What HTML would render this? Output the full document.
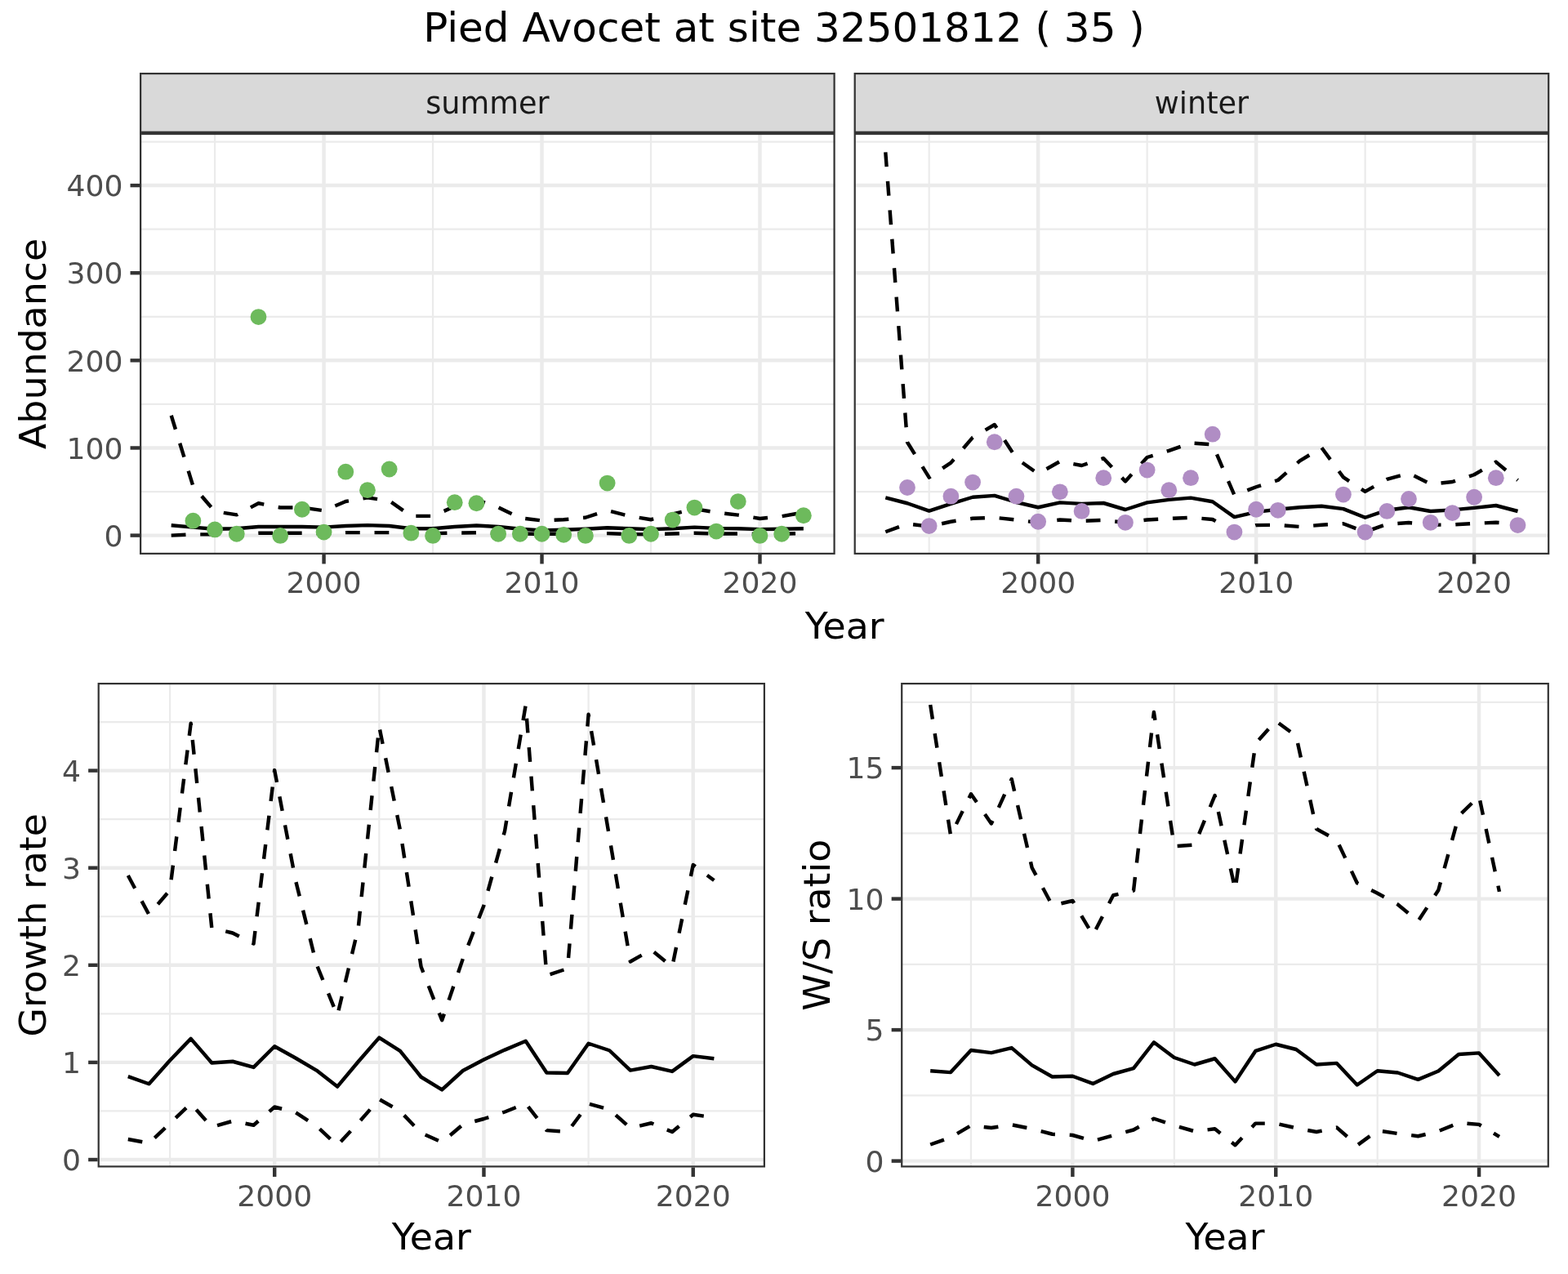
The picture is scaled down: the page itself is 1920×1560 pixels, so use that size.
<!DOCTYPE html>
<html lang="en">
<head>
<meta charset="utf-8">
<title>Pied Avocet at site 32501812 ( 35 )</title>
<style>
html, body { margin: 0; padding: 0; background: #fff; }
body { width: 1920px; height: 1560px; overflow: hidden; }
svg { display: block; font-family: "DejaVu Sans", "Liberation Sans", sans-serif; }
svg text { font-kerning: normal; }
</style>
</head>
<body>
<svg xmlns="http://www.w3.org/2000/svg" width="1920" height="1560" viewBox="0 0 1920 1560">
<rect width="1920" height="1560" fill="#fff"/>
<text transform="translate(960,50.6) scale(1,1)" text-anchor="middle" font-size="50" fill="#000">Pied Avocet at site 32501812 ( 35 )</text>
<clipPath id="ca"><rect x="171" y="162.9" width="851.7" height="516.1"/></clipPath>
<g clip-path="url(#ca)">
<rect x="171" y="162.9" width="851.7" height="516.1" fill="#fff"/>
<line x1="171" x2="1022.7" y1="602.04" y2="602.04" stroke="#EBEBEB" stroke-width="2.22"/>
<line x1="171" x2="1022.7" y1="494.91" y2="494.91" stroke="#EBEBEB" stroke-width="2.22"/>
<line x1="171" x2="1022.7" y1="387.78" y2="387.78" stroke="#EBEBEB" stroke-width="2.22"/>
<line x1="171" x2="1022.7" y1="280.65" y2="280.65" stroke="#EBEBEB" stroke-width="2.22"/>
<line x1="171" x2="1022.7" y1="173.52" y2="173.52" stroke="#EBEBEB" stroke-width="2.22"/>
<line y1="162.9" y2="679" x1="263.09" x2="263.09" stroke="#EBEBEB" stroke-width="2.22"/>
<line y1="162.9" y2="679" x1="530.05" x2="530.05" stroke="#EBEBEB" stroke-width="2.22"/>
<line y1="162.9" y2="679" x1="797.01" x2="797.01" stroke="#EBEBEB" stroke-width="2.22"/>
<line x1="171" x2="1022.7" y1="655.6" y2="655.6" stroke="#EBEBEB" stroke-width="4.44"/>
<line x1="171" x2="1022.7" y1="548.47" y2="548.47" stroke="#EBEBEB" stroke-width="4.44"/>
<line x1="171" x2="1022.7" y1="441.34" y2="441.34" stroke="#EBEBEB" stroke-width="4.44"/>
<line x1="171" x2="1022.7" y1="334.21" y2="334.21" stroke="#EBEBEB" stroke-width="4.44"/>
<line x1="171" x2="1022.7" y1="227.08" y2="227.08" stroke="#EBEBEB" stroke-width="4.44"/>
<line y1="162.9" y2="679" x1="396.57" x2="396.57" stroke="#EBEBEB" stroke-width="4.44"/>
<line y1="162.9" y2="679" x1="663.53" x2="663.53" stroke="#EBEBEB" stroke-width="4.44"/>
<line y1="162.9" y2="679" x1="930.49" x2="930.49" stroke="#EBEBEB" stroke-width="4.44"/>
<polyline points="209.7,643.25 236.4,645.6 263.09,647.75 289.79,647.25 316.48,645 343.18,645 369.88,645 396.57,645.6 423.27,644 449.96,643.1 476.66,644 503.36,647.25 530.05,647.25 556.75,645 583.44,643.5 610.14,645 636.84,647.75 663.53,649.4 690.23,648.75 716.92,647.75 743.62,646.25 770.32,647.25 797.01,648.1 823.71,647.25 850.4,645.6 877.1,646.9 903.8,647.25 930.49,648.1 957.19,647.75 983.88,647.25" fill="none" stroke="#000" stroke-width="4.44" stroke-linejoin="round" stroke-linecap="butt"/>
<polyline points="209.7,508.75 236.4,595.25 263.09,626.25 289.79,630.4 316.48,616.25 343.18,621.5 369.88,621.5 396.57,625.25 423.27,614 449.96,609.4 476.66,613.1 503.36,631.9 530.05,631.9 556.75,620 583.44,611.9 610.14,621.25 636.84,634.2 663.53,637.5 690.23,636.25 716.92,633.75 743.62,625 770.32,631.9 797.01,636.25 823.71,629.5 850.4,623.1 877.1,627.5 903.8,630.6 930.49,635 957.19,632.25 983.88,627.5" fill="none" stroke="#000" stroke-width="4.44" stroke-linejoin="round" stroke-linecap="butt" stroke-dasharray="17.78 17.78"/>
<polyline points="209.7,655.6 236.4,654.4 263.09,654.4 289.79,654 316.48,652.75 343.18,652.75 369.88,652.75 396.57,653 423.27,652.1 449.96,652.1 476.66,652.1 503.36,653 530.05,653.1 556.75,652.5 583.44,652.25 610.14,653 636.84,653.5 663.53,653.75 690.23,653.75 716.92,653.5 743.62,653.1 770.32,654 797.01,654.4 823.71,653.5 850.4,652.75 877.1,653.4 903.8,653.5 930.49,654 957.19,653.75 983.88,653.1" fill="none" stroke="#000" stroke-width="4.44" stroke-linejoin="round" stroke-linecap="butt" stroke-dasharray="17.78 17.78"/>
<circle cx="236.4" cy="637.69" r="9.9" fill="#6DBA5C"/>
<circle cx="263.09" cy="648.4" r="9.9" fill="#6DBA5C"/>
<circle cx="289.79" cy="653.76" r="9.9" fill="#6DBA5C"/>
<circle cx="316.48" cy="388.08" r="9.9" fill="#6DBA5C"/>
<circle cx="343.18" cy="655.9" r="9.9" fill="#6DBA5C"/>
<circle cx="369.88" cy="623.76" r="9.9" fill="#6DBA5C"/>
<circle cx="396.57" cy="651.61" r="9.9" fill="#6DBA5C"/>
<circle cx="423.27" cy="577.7" r="9.9" fill="#6DBA5C"/>
<circle cx="449.96" cy="600.19" r="9.9" fill="#6DBA5C"/>
<circle cx="476.66" cy="574.48" r="9.9" fill="#6DBA5C"/>
<circle cx="503.36" cy="652.69" r="9.9" fill="#6DBA5C"/>
<circle cx="530.05" cy="655.9" r="9.9" fill="#6DBA5C"/>
<circle cx="556.75" cy="615.19" r="9.9" fill="#6DBA5C"/>
<circle cx="583.44" cy="616.26" r="9.9" fill="#6DBA5C"/>
<circle cx="610.14" cy="653.76" r="9.9" fill="#6DBA5C"/>
<circle cx="636.84" cy="653.76" r="9.9" fill="#6DBA5C"/>
<circle cx="663.53" cy="653.76" r="9.9" fill="#6DBA5C"/>
<circle cx="690.23" cy="654.83" r="9.9" fill="#6DBA5C"/>
<circle cx="716.92" cy="655.9" r="9.9" fill="#6DBA5C"/>
<circle cx="743.62" cy="591.62" r="9.9" fill="#6DBA5C"/>
<circle cx="770.32" cy="655.9" r="9.9" fill="#6DBA5C"/>
<circle cx="797.01" cy="653.76" r="9.9" fill="#6DBA5C"/>
<circle cx="823.71" cy="636.62" r="9.9" fill="#6DBA5C"/>
<circle cx="850.4" cy="621.62" r="9.9" fill="#6DBA5C"/>
<circle cx="877.1" cy="650.54" r="9.9" fill="#6DBA5C"/>
<circle cx="903.8" cy="614.12" r="9.9" fill="#6DBA5C"/>
<circle cx="930.49" cy="655.9" r="9.9" fill="#6DBA5C"/>
<circle cx="957.19" cy="653.76" r="9.9" fill="#6DBA5C"/>
<circle cx="983.88" cy="631.26" r="9.9" fill="#6DBA5C"/>
<rect x="171" y="162.9" width="851.7" height="516.1" fill="none" stroke="#333333" stroke-width="4.44"/>
</g>
<clipPath id="sa"><rect x="171" y="89" width="851.7" height="73.9"/></clipPath>
<g clip-path="url(#sa)"><rect x="171" y="89" width="851.7" height="73.9" fill="#D9D9D9" stroke="#333333" stroke-width="4.44"/></g>
<text x="596.85" y="138.6" text-anchor="middle" font-size="36.67" fill="#1A1A1A">summer</text>
<line x1="396.57" x2="396.57" y1="679" y2="690.46" stroke="#333333" stroke-width="4.44"/>
<text transform="translate(396.57,726) scale(0.986,0.955)" text-anchor="middle" font-size="36.67" fill="#4D4D4D">2000</text>
<line x1="663.53" x2="663.53" y1="679" y2="690.46" stroke="#333333" stroke-width="4.44"/>
<text transform="translate(663.53,726) scale(0.986,0.955)" text-anchor="middle" font-size="36.67" fill="#4D4D4D">2010</text>
<line x1="930.49" x2="930.49" y1="679" y2="690.46" stroke="#333333" stroke-width="4.44"/>
<text transform="translate(930.49,726) scale(0.986,0.955)" text-anchor="middle" font-size="36.67" fill="#4D4D4D">2020</text>
<clipPath id="cb"><rect x="1045.6" y="162.9" width="851.7" height="516.1"/></clipPath>
<g clip-path="url(#cb)">
<rect x="1045.6" y="162.9" width="851.7" height="516.1" fill="#fff"/>
<line x1="1045.6" x2="1897.3" y1="602.04" y2="602.04" stroke="#EBEBEB" stroke-width="2.22"/>
<line x1="1045.6" x2="1897.3" y1="494.91" y2="494.91" stroke="#EBEBEB" stroke-width="2.22"/>
<line x1="1045.6" x2="1897.3" y1="387.78" y2="387.78" stroke="#EBEBEB" stroke-width="2.22"/>
<line x1="1045.6" x2="1897.3" y1="280.65" y2="280.65" stroke="#EBEBEB" stroke-width="2.22"/>
<line x1="1045.6" x2="1897.3" y1="173.52" y2="173.52" stroke="#EBEBEB" stroke-width="2.22"/>
<line y1="162.9" y2="679" x1="1137.69" x2="1137.69" stroke="#EBEBEB" stroke-width="2.22"/>
<line y1="162.9" y2="679" x1="1404.65" x2="1404.65" stroke="#EBEBEB" stroke-width="2.22"/>
<line y1="162.9" y2="679" x1="1671.61" x2="1671.61" stroke="#EBEBEB" stroke-width="2.22"/>
<line x1="1045.6" x2="1897.3" y1="655.6" y2="655.6" stroke="#EBEBEB" stroke-width="4.44"/>
<line x1="1045.6" x2="1897.3" y1="548.47" y2="548.47" stroke="#EBEBEB" stroke-width="4.44"/>
<line x1="1045.6" x2="1897.3" y1="441.34" y2="441.34" stroke="#EBEBEB" stroke-width="4.44"/>
<line x1="1045.6" x2="1897.3" y1="334.21" y2="334.21" stroke="#EBEBEB" stroke-width="4.44"/>
<line x1="1045.6" x2="1897.3" y1="227.08" y2="227.08" stroke="#EBEBEB" stroke-width="4.44"/>
<line y1="162.9" y2="679" x1="1271.17" x2="1271.17" stroke="#EBEBEB" stroke-width="4.44"/>
<line y1="162.9" y2="679" x1="1538.13" x2="1538.13" stroke="#EBEBEB" stroke-width="4.44"/>
<line y1="162.9" y2="679" x1="1805.09" x2="1805.09" stroke="#EBEBEB" stroke-width="4.44"/>
<polyline points="1084.3,609.4 1111,616.25 1137.69,625.6 1164.39,616.9 1191.08,608.75 1217.78,606.9 1244.48,615 1271.17,621.25 1297.87,615.4 1324.56,616.9 1351.26,616 1377.96,624 1404.65,615.4 1431.35,611.9 1458.04,609.6 1484.74,614.2 1511.44,633.1 1538.13,626.9 1564.83,623.75 1591.52,621.25 1618.22,619.75 1644.92,623.1 1671.61,633.75 1698.31,624.7 1725,621.25 1751.7,626 1778.4,624.4 1805.09,621.9 1831.79,619 1858.48,626" fill="none" stroke="#000" stroke-width="4.44" stroke-linejoin="round" stroke-linecap="butt"/>
<polyline points="1084.3,186.4 1111,541.5 1137.69,584.6 1164.39,566.6 1191.08,535.6 1217.78,520 1244.48,561.25 1271.17,580.1 1297.87,565 1324.56,570 1351.26,561.2 1377.96,589.4 1404.65,560 1431.35,551.9 1458.04,542.5 1484.74,544.2 1511.44,606.25 1538.13,596.25 1564.83,588 1591.52,564.4 1618.22,548.1 1644.92,584.4 1671.61,601.9 1698.31,586.9 1725,579.4 1751.7,592.75 1778.4,590 1805.09,581.25 1831.79,565.6 1858.48,588" fill="none" stroke="#000" stroke-width="4.44" stroke-linejoin="round" stroke-linecap="butt" stroke-dasharray="17.78 17.78"/>
<polyline points="1084.3,651.25 1111,641.5 1137.69,644.6 1164.39,638.75 1191.08,634.75 1217.78,633.75 1244.48,636.5 1271.17,640 1297.87,636.5 1324.56,638 1351.26,636.9 1377.96,640 1404.65,636.5 1431.35,635 1458.04,633.75 1484.74,636 1511.44,651.25 1538.13,643.1 1564.83,642.75 1591.52,645 1618.22,642.75 1644.92,641.25 1671.61,651.25 1698.31,641.9 1725,640 1751.7,642.75 1778.4,642.5 1805.09,641 1831.79,639.75 1858.48,642" fill="none" stroke="#000" stroke-width="4.44" stroke-linejoin="round" stroke-linecap="butt" stroke-dasharray="17.78 17.78"/>
<circle cx="1111" cy="596.98" r="9.9" fill="#B08DC4"/>
<circle cx="1137.69" cy="644.12" r="9.9" fill="#B08DC4"/>
<circle cx="1164.39" cy="607.69" r="9.9" fill="#B08DC4"/>
<circle cx="1191.08" cy="590.55" r="9.9" fill="#B08DC4"/>
<circle cx="1217.78" cy="541.27" r="9.9" fill="#B08DC4"/>
<circle cx="1244.48" cy="607.69" r="9.9" fill="#B08DC4"/>
<circle cx="1271.17" cy="638.76" r="9.9" fill="#B08DC4"/>
<circle cx="1297.87" cy="602.34" r="9.9" fill="#B08DC4"/>
<circle cx="1324.56" cy="625.9" r="9.9" fill="#B08DC4"/>
<circle cx="1351.26" cy="585.19" r="9.9" fill="#B08DC4"/>
<circle cx="1377.96" cy="639.83" r="9.9" fill="#B08DC4"/>
<circle cx="1404.65" cy="575.55" r="9.9" fill="#B08DC4"/>
<circle cx="1431.35" cy="600.19" r="9.9" fill="#B08DC4"/>
<circle cx="1458.04" cy="585.19" r="9.9" fill="#B08DC4"/>
<circle cx="1484.74" cy="531.63" r="9.9" fill="#B08DC4"/>
<circle cx="1511.44" cy="651.61" r="9.9" fill="#B08DC4"/>
<circle cx="1538.13" cy="623.76" r="9.9" fill="#B08DC4"/>
<circle cx="1564.83" cy="624.83" r="9.9" fill="#B08DC4"/>
<circle cx="1644.92" cy="605.55" r="9.9" fill="#B08DC4"/>
<circle cx="1671.61" cy="651.61" r="9.9" fill="#B08DC4"/>
<circle cx="1698.31" cy="625.9" r="9.9" fill="#B08DC4"/>
<circle cx="1725" cy="610.91" r="9.9" fill="#B08DC4"/>
<circle cx="1751.7" cy="639.83" r="9.9" fill="#B08DC4"/>
<circle cx="1778.4" cy="628.05" r="9.9" fill="#B08DC4"/>
<circle cx="1805.09" cy="608.76" r="9.9" fill="#B08DC4"/>
<circle cx="1831.79" cy="585.19" r="9.9" fill="#B08DC4"/>
<circle cx="1858.48" cy="643.04" r="9.9" fill="#B08DC4"/>
<rect x="1045.6" y="162.9" width="851.7" height="516.1" fill="none" stroke="#333333" stroke-width="4.44"/>
</g>
<clipPath id="sb"><rect x="1045.6" y="89" width="851.7" height="73.9"/></clipPath>
<g clip-path="url(#sb)"><rect x="1045.6" y="89" width="851.7" height="73.9" fill="#D9D9D9" stroke="#333333" stroke-width="4.44"/></g>
<text x="1471.45" y="138.6" text-anchor="middle" font-size="36.67" fill="#1A1A1A">winter</text>
<line x1="1271.17" x2="1271.17" y1="679" y2="690.46" stroke="#333333" stroke-width="4.44"/>
<text transform="translate(1271.17,726) scale(0.986,0.955)" text-anchor="middle" font-size="36.67" fill="#4D4D4D">2000</text>
<line x1="1538.13" x2="1538.13" y1="679" y2="690.46" stroke="#333333" stroke-width="4.44"/>
<text transform="translate(1538.13,726) scale(0.986,0.955)" text-anchor="middle" font-size="36.67" fill="#4D4D4D">2010</text>
<line x1="1805.09" x2="1805.09" y1="679" y2="690.46" stroke="#333333" stroke-width="4.44"/>
<text transform="translate(1805.09,726) scale(0.986,0.955)" text-anchor="middle" font-size="36.67" fill="#4D4D4D">2020</text>
<line x1="159.54" x2="171" y1="655.6" y2="655.6" stroke="#333333" stroke-width="4.44"/>
<text transform="translate(150.4,668.8) scale(0.986,0.955)" text-anchor="end" font-size="36.67" fill="#4D4D4D">0</text>
<line x1="159.54" x2="171" y1="548.47" y2="548.47" stroke="#333333" stroke-width="4.44"/>
<text transform="translate(150.4,561.67) scale(0.986,0.955)" text-anchor="end" font-size="36.67" fill="#4D4D4D">100</text>
<line x1="159.54" x2="171" y1="441.34" y2="441.34" stroke="#333333" stroke-width="4.44"/>
<text transform="translate(150.4,454.54) scale(0.986,0.955)" text-anchor="end" font-size="36.67" fill="#4D4D4D">200</text>
<line x1="159.54" x2="171" y1="334.21" y2="334.21" stroke="#333333" stroke-width="4.44"/>
<text transform="translate(150.4,347.41) scale(0.986,0.955)" text-anchor="end" font-size="36.67" fill="#4D4D4D">300</text>
<line x1="159.54" x2="171" y1="227.08" y2="227.08" stroke="#333333" stroke-width="4.44"/>
<text transform="translate(150.4,240.28) scale(0.986,0.955)" text-anchor="end" font-size="36.67" fill="#4D4D4D">400</text>
<text transform="translate(55.9,420.95) rotate(-90) scale(1,0.965)" text-anchor="middle" font-size="45.83" fill="#000">Abundance</text>
<text transform="translate(1034.15,782) scale(1,0.972)" text-anchor="middle" font-size="45.83" fill="#000">Year</text>
<clipPath id="cg"><rect x="119.6" y="836" width="817.4" height="593.5"/></clipPath>
<g clip-path="url(#cg)">
<rect x="119.6" y="836" width="817.4" height="593.5" fill="#fff"/>
<line x1="119.6" x2="937" y1="1360.45" y2="1360.45" stroke="#EBEBEB" stroke-width="2.22"/>
<line x1="119.6" x2="937" y1="1241.35" y2="1241.35" stroke="#EBEBEB" stroke-width="2.22"/>
<line x1="119.6" x2="937" y1="1122.25" y2="1122.25" stroke="#EBEBEB" stroke-width="2.22"/>
<line x1="119.6" x2="937" y1="1003.15" y2="1003.15" stroke="#EBEBEB" stroke-width="2.22"/>
<line x1="119.6" x2="937" y1="884.05" y2="884.05" stroke="#EBEBEB" stroke-width="2.22"/>
<line y1="836" y2="1429.5" x1="208.05" x2="208.05" stroke="#EBEBEB" stroke-width="2.22"/>
<line y1="836" y2="1429.5" x1="464.32" x2="464.32" stroke="#EBEBEB" stroke-width="2.22"/>
<line y1="836" y2="1429.5" x1="720.59" x2="720.59" stroke="#EBEBEB" stroke-width="2.22"/>
<line x1="119.6" x2="937" y1="1420" y2="1420" stroke="#EBEBEB" stroke-width="4.44"/>
<line x1="119.6" x2="937" y1="1300.9" y2="1300.9" stroke="#EBEBEB" stroke-width="4.44"/>
<line x1="119.6" x2="937" y1="1181.8" y2="1181.8" stroke="#EBEBEB" stroke-width="4.44"/>
<line x1="119.6" x2="937" y1="1062.7" y2="1062.7" stroke="#EBEBEB" stroke-width="4.44"/>
<line x1="119.6" x2="937" y1="943.6" y2="943.6" stroke="#EBEBEB" stroke-width="4.44"/>
<line y1="836" y2="1429.5" x1="336.19" x2="336.19" stroke="#EBEBEB" stroke-width="4.44"/>
<line y1="836" y2="1429.5" x1="592.46" x2="592.46" stroke="#EBEBEB" stroke-width="4.44"/>
<line y1="836" y2="1429.5" x1="848.73" x2="848.73" stroke="#EBEBEB" stroke-width="4.44"/>
<polyline points="156.8,1318.1 182.43,1327.25 208.05,1298.5 233.68,1271.9 259.31,1301.5 284.94,1299.75 310.56,1306.9 336.19,1281.25 361.82,1295.5 387.44,1310.6 413.07,1330.6 438.7,1300 464.32,1270.6 489.95,1286.9 515.58,1318.75 541.2,1334.4 566.83,1311 592.46,1297.5 618.09,1285.6 643.71,1274.75 669.34,1313.5 694.97,1314 720.59,1277.75 746.22,1286.25 771.85,1310.6 797.47,1306 823.1,1311.9 848.73,1293.1 874.36,1296.25" fill="none" stroke="#000" stroke-width="4.44" stroke-linejoin="round" stroke-linecap="butt"/>
<polyline points="156.8,1072 182.43,1120 208.05,1090 233.68,885.75 259.31,1136.25 284.94,1142.5 310.56,1155.5 336.19,943.1 361.82,1077.5 387.44,1180.5 413.07,1243.5 438.7,1136.25 464.32,889.7 489.95,1016.25 515.58,1183.75 541.2,1249.3 566.83,1174 592.46,1108.75 618.09,1017.5 643.71,863.3 669.34,1194.4 694.97,1186 720.59,874.75 746.22,1025 771.85,1177.5 797.47,1163 823.1,1184 848.73,1059 874.36,1078" fill="none" stroke="#000" stroke-width="4.44" stroke-linejoin="round" stroke-linecap="butt" stroke-dasharray="17.78 17.78"/>
<polyline points="156.8,1395 182.43,1399.8 208.05,1375.6 233.68,1351.2 259.31,1380 284.94,1372.75 310.56,1377.75 336.19,1355.5 361.82,1362 387.44,1378.75 413.07,1402.5 438.7,1375 464.32,1346 489.95,1360.6 515.58,1387.25 541.2,1398.75 566.83,1376.9 592.46,1370 618.09,1361.5 643.71,1351.25 669.34,1384.1 694.97,1386 720.59,1351.6 746.22,1358.5 771.85,1381.25 797.47,1375.25 823.1,1386 848.73,1364.75 874.36,1368.4" fill="none" stroke="#000" stroke-width="4.44" stroke-linejoin="round" stroke-linecap="butt" stroke-dasharray="17.78 17.78"/>
<rect x="119.6" y="836" width="817.4" height="593.5" fill="none" stroke="#333333" stroke-width="4.44"/>
</g>
<line x1="336.19" x2="336.19" y1="1429.5" y2="1440.96" stroke="#333333" stroke-width="4.44"/>
<text transform="translate(336.19,1476.5) scale(0.986,0.955)" text-anchor="middle" font-size="36.67" fill="#4D4D4D">2000</text>
<line x1="592.46" x2="592.46" y1="1429.5" y2="1440.96" stroke="#333333" stroke-width="4.44"/>
<text transform="translate(592.46,1476.5) scale(0.986,0.955)" text-anchor="middle" font-size="36.67" fill="#4D4D4D">2010</text>
<line x1="848.73" x2="848.73" y1="1429.5" y2="1440.96" stroke="#333333" stroke-width="4.44"/>
<text transform="translate(848.73,1476.5) scale(0.986,0.955)" text-anchor="middle" font-size="36.67" fill="#4D4D4D">2020</text>
<line x1="108.14" x2="119.6" y1="1420" y2="1420" stroke="#333333" stroke-width="4.44"/>
<text transform="translate(99,1433.2) scale(0.986,0.955)" text-anchor="end" font-size="36.67" fill="#4D4D4D">0</text>
<line x1="108.14" x2="119.6" y1="1300.9" y2="1300.9" stroke="#333333" stroke-width="4.44"/>
<text transform="translate(99,1314.1) scale(0.986,0.955)" text-anchor="end" font-size="36.67" fill="#4D4D4D">1</text>
<line x1="108.14" x2="119.6" y1="1181.8" y2="1181.8" stroke="#333333" stroke-width="4.44"/>
<text transform="translate(99,1195) scale(0.986,0.955)" text-anchor="end" font-size="36.67" fill="#4D4D4D">2</text>
<line x1="108.14" x2="119.6" y1="1062.7" y2="1062.7" stroke="#333333" stroke-width="4.44"/>
<text transform="translate(99,1075.9) scale(0.986,0.955)" text-anchor="end" font-size="36.67" fill="#4D4D4D">3</text>
<line x1="108.14" x2="119.6" y1="943.6" y2="943.6" stroke="#333333" stroke-width="4.44"/>
<text transform="translate(99,956.8) scale(0.986,0.955)" text-anchor="end" font-size="36.67" fill="#4D4D4D">4</text>
<text transform="translate(55.9,1132.75) rotate(-90) scale(1,0.965)" text-anchor="middle" font-size="45.83" fill="#000">Growth rate</text>
<text transform="translate(528.3,1530) scale(1,0.972)" text-anchor="middle" font-size="45.83" fill="#000">Year</text>
<clipPath id="cr"><rect x="1103.1" y="836" width="793.8" height="593.5"/></clipPath>
<g clip-path="url(#cr)">
<rect x="1103.1" y="836" width="793.8" height="593.5" fill="#fff"/>
<line x1="1103.1" x2="1896.9" y1="1341.35" y2="1341.35" stroke="#EBEBEB" stroke-width="2.22"/>
<line x1="1103.1" x2="1896.9" y1="1180.85" y2="1180.85" stroke="#EBEBEB" stroke-width="2.22"/>
<line x1="1103.1" x2="1896.9" y1="1020.35" y2="1020.35" stroke="#EBEBEB" stroke-width="2.22"/>
<line x1="1103.1" x2="1896.9" y1="859.85" y2="859.85" stroke="#EBEBEB" stroke-width="2.22"/>
<line y1="836" y2="1429.5" x1="1188.97" x2="1188.97" stroke="#EBEBEB" stroke-width="2.22"/>
<line y1="836" y2="1429.5" x1="1437.81" x2="1437.81" stroke="#EBEBEB" stroke-width="2.22"/>
<line y1="836" y2="1429.5" x1="1686.65" x2="1686.65" stroke="#EBEBEB" stroke-width="2.22"/>
<line x1="1103.1" x2="1896.9" y1="1421.6" y2="1421.6" stroke="#EBEBEB" stroke-width="4.44"/>
<line x1="1103.1" x2="1896.9" y1="1261.1" y2="1261.1" stroke="#EBEBEB" stroke-width="4.44"/>
<line x1="1103.1" x2="1896.9" y1="1100.6" y2="1100.6" stroke="#EBEBEB" stroke-width="4.44"/>
<line x1="1103.1" x2="1896.9" y1="940.1" y2="940.1" stroke="#EBEBEB" stroke-width="4.44"/>
<line y1="836" y2="1429.5" x1="1313.39" x2="1313.39" stroke="#EBEBEB" stroke-width="4.44"/>
<line y1="836" y2="1429.5" x1="1562.23" x2="1562.23" stroke="#EBEBEB" stroke-width="4.44"/>
<line y1="836" y2="1429.5" x1="1811.07" x2="1811.07" stroke="#EBEBEB" stroke-width="4.44"/>
<polyline points="1139.2,1311.25 1164.08,1313.1 1188.97,1286 1213.85,1289.1 1238.74,1283.1 1263.62,1304.4 1288.5,1318.5 1313.39,1317.75 1338.27,1326.9 1363.16,1315 1388.04,1308.1 1412.92,1276.25 1437.81,1295 1462.69,1303.5 1487.58,1296.25 1512.46,1324.4 1537.34,1286.9 1562.23,1278.75 1587.11,1285 1612,1303.5 1636.88,1301.9 1661.76,1328.5 1686.65,1311.25 1711.53,1313.5 1736.42,1321.9 1761.3,1311.5 1786.18,1291 1811.07,1289.4 1835.95,1316.9" fill="none" stroke="#000" stroke-width="4.44" stroke-linejoin="round" stroke-linecap="butt"/>
<polyline points="1139.2,863 1164.08,1023.2 1188.97,972.2 1213.85,1008.5 1238.74,954 1263.62,1062.5 1288.5,1108.75 1313.39,1103 1338.27,1145.05 1363.16,1096.25 1388.04,1090.5 1412.92,872 1437.81,1036.25 1462.69,1034.5 1487.58,974.1 1512.46,1089.5 1537.34,910.6 1562.23,882.9 1587.11,901.25 1612,1015 1636.88,1028.75 1661.76,1081.2 1686.65,1093.75 1711.53,1107.5 1736.42,1128 1761.3,1090 1786.18,999.25 1811.07,974.9 1835.95,1091.9" fill="none" stroke="#000" stroke-width="4.44" stroke-linejoin="round" stroke-linecap="butt" stroke-dasharray="17.78 17.78"/>
<polyline points="1139.2,1401.5 1164.08,1392.75 1188.97,1378.1 1213.85,1381 1238.74,1377.25 1263.62,1382.25 1288.5,1388.75 1313.39,1390 1338.27,1397.25 1363.16,1390.25 1388.04,1383.5 1412.92,1369.75 1437.81,1378 1462.69,1385.25 1487.58,1382.25 1512.46,1402.25 1537.34,1375.6 1562.23,1375.6 1587.11,1381.25 1612,1386 1636.88,1380.6 1661.76,1402.5 1686.65,1384.4 1711.53,1388 1736.42,1391.25 1761.3,1385.1 1786.18,1375 1811.07,1376.9 1835.95,1391.9" fill="none" stroke="#000" stroke-width="4.44" stroke-linejoin="round" stroke-linecap="butt" stroke-dasharray="17.78 17.78"/>
<rect x="1103.1" y="836" width="793.8" height="593.5" fill="none" stroke="#333333" stroke-width="4.44"/>
</g>
<line x1="1313.39" x2="1313.39" y1="1429.5" y2="1440.96" stroke="#333333" stroke-width="4.44"/>
<text transform="translate(1313.39,1476.5) scale(0.986,0.955)" text-anchor="middle" font-size="36.67" fill="#4D4D4D">2000</text>
<line x1="1562.23" x2="1562.23" y1="1429.5" y2="1440.96" stroke="#333333" stroke-width="4.44"/>
<text transform="translate(1562.23,1476.5) scale(0.986,0.955)" text-anchor="middle" font-size="36.67" fill="#4D4D4D">2010</text>
<line x1="1811.07" x2="1811.07" y1="1429.5" y2="1440.96" stroke="#333333" stroke-width="4.44"/>
<text transform="translate(1811.07,1476.5) scale(0.986,0.955)" text-anchor="middle" font-size="36.67" fill="#4D4D4D">2020</text>
<line x1="1091.64" x2="1103.1" y1="1421.6" y2="1421.6" stroke="#333333" stroke-width="4.44"/>
<text transform="translate(1082.5,1434.8) scale(0.986,0.955)" text-anchor="end" font-size="36.67" fill="#4D4D4D">0</text>
<line x1="1091.64" x2="1103.1" y1="1261.1" y2="1261.1" stroke="#333333" stroke-width="4.44"/>
<text transform="translate(1082.5,1274.3) scale(0.986,0.955)" text-anchor="end" font-size="36.67" fill="#4D4D4D">5</text>
<line x1="1091.64" x2="1103.1" y1="1100.6" y2="1100.6" stroke="#333333" stroke-width="4.44"/>
<text transform="translate(1082.5,1113.8) scale(0.986,0.955)" text-anchor="end" font-size="36.67" fill="#4D4D4D">10</text>
<line x1="1091.64" x2="1103.1" y1="940.1" y2="940.1" stroke="#333333" stroke-width="4.44"/>
<text transform="translate(1082.5,953.3) scale(0.986,0.955)" text-anchor="end" font-size="36.67" fill="#4D4D4D">15</text>
<text transform="translate(1015.9,1132.75) rotate(-90) scale(1,0.965)" text-anchor="middle" font-size="45.83" fill="#000">W/S ratio</text>
<text transform="translate(1500,1530) scale(1,0.972)" text-anchor="middle" font-size="45.83" fill="#000">Year</text>
</svg>
</body>
</html>
